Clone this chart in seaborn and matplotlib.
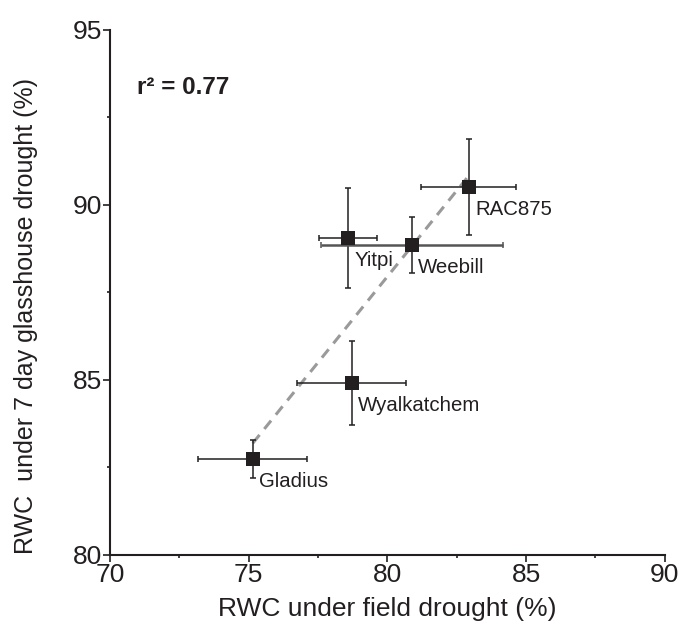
import numpy as np
import pandas as pd
import matplotlib
matplotlib.use('Agg')
import matplotlib.pyplot as plt
from matplotlib.ticker import MultipleLocator
import seaborn as sns

sns.set_style('ticks')
plt.rcParams['font.family'] = ['Liberation Sans', 'DejaVu Sans']

# ===== Data =====
cultivars = ['Gladius', 'Wyalkatchem', 'Yitpi', 'Weebill', 'RAC875']
field_rwc = [75.15, 78.72, 78.58, 80.88, 82.94]
field_err = [1.96, 1.97, 1.05, 3.28, 1.71]
glass_rwc = [82.74, 84.91, 89.06, 88.86, 90.51]
glass_err = [0.53, 1.21, 1.43, 0.80, 1.36]

df = pd.DataFrame({'cultivar': cultivars, 'field': field_rwc, 'glass': glass_rwc,
                   'field_err': field_err, 'glass_err': glass_err})

ink = '#231f20'

fig = plt.figure(figsize=(6.96, 6.32), dpi=100)
ax = fig.add_axes([0.158, 0.122, 0.797, 0.831])

# regression line
sns.regplot(data=df, x='field', y='glass', scatter=False, ci=None, truncate=True, ax=ax,
            line_kws=dict(color='#9a9a9a', lw=2.2, ls=(0, (3.5, 2.5)), zorder=2))

# error bars
for i, row in df.iterrows():
    col = '#555555' if row['cultivar'] == 'Weebill' else ink
    lw = 1.8 if row['cultivar'] == 'Weebill' else 1.1
    ax.errorbar(row['field'], row['glass'], xerr=row['field_err'],
                fmt='none', ecolor=col, elinewidth=lw, capsize=2.5, capthick=1.1, zorder=3)
    ax.errorbar(row['field'], row['glass'], yerr=row['glass_err'],
                fmt='none', ecolor=ink, elinewidth=1.1, capsize=2.5, capthick=1.1, zorder=3)

sns.scatterplot(data=df, x='field', y='glass', marker='s', s=100, color=ink,
                edgecolor=ink, linewidth=0, ax=ax, zorder=4)

for i, row in df.iterrows():
    ax.annotate(row['cultivar'], (row['field'], row['glass']), xytext=(4.5, -16.5),
                textcoords='offset points', ha='left', va='center', fontsize=14.7, color=ink)

ax.text(0.049, 0.89, 'r² = 0.77', transform=ax.transAxes, fontsize=17.5,
        fontweight='bold', color=ink, ha='left', va='center')

ax.set_xlim(70, 90)
ax.set_ylim(80, 95)
ax.xaxis.set_major_locator(MultipleLocator(5))
ax.yaxis.set_major_locator(MultipleLocator(5))
ax.xaxis.set_minor_locator(MultipleLocator(2.5))
ax.yaxis.set_minor_locator(MultipleLocator(2.5))
ax.tick_params(which='major', direction='out', length=5, width=1.2, color=ink,
               labelsize=19, labelcolor=ink, pad=1)
ax.tick_params(which='minor', direction='out', length=2.5, width=1.2, color=ink)
for s in ['left', 'bottom']:
    ax.spines[s].set_color(ink)
    ax.spines[s].set_linewidth(1.5)
sns.despine(ax=ax)

ax.set_xlabel('RWC under field drought (%)', fontsize=19, color=ink, labelpad=7)
ax.set_ylabel('RWC  under 7 day glasshouse drought (%)', fontsize=18, color=ink)
ax.yaxis.set_label_coords(-0.13, 0.455)

fig.savefig('out.png', dpi=100)
